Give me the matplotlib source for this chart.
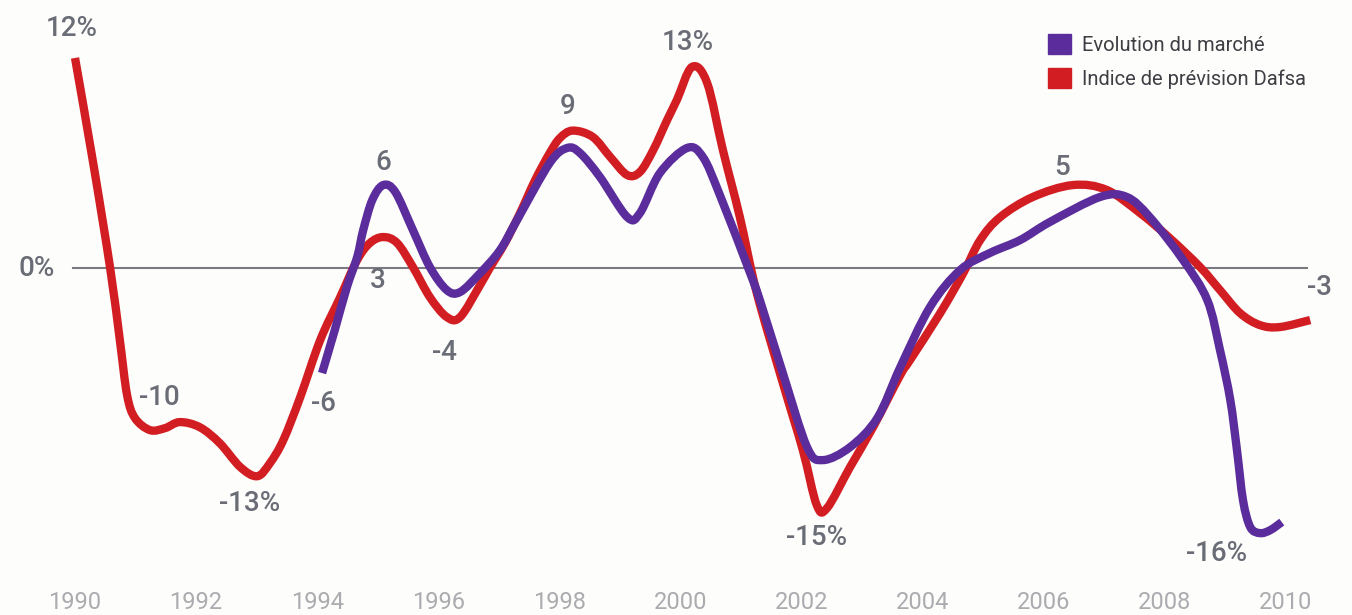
import matplotlib
matplotlib.use("Agg")
import matplotlib.pyplot as plt
import numpy as np
from matplotlib.patches import Patch, PathPatch
from matplotlib.path import Path

plt.rcParams['font.family'] = ['Roboto', 'DejaVu Sans']

# --- data (year, % change) ---
red_years = [1990.00, 1990.30, 1990.58, 1990.74, 1990.86, 1990.99, 1991.24, 1991.49, 1991.73,
             1992.06, 1992.39, 1992.73, 1993.01, 1993.22, 1993.44, 1993.72, 1994.05, 1994.38,
             1994.66, 1994.87, 1995.09, 1995.32, 1995.58, 1995.86, 1996.14, 1996.36, 1996.69,
             1996.85, 1997.10, 1997.35, 1997.60, 1997.84, 1998.01, 1998.22, 1998.55,
             1998.84, 1999.12, 1999.33, 1999.55, 1999.78, 1999.94, 2000.19, 2000.44, 2000.70,
             2000.98, 2001.26, 2001.69, 2002.02, 2002.25, 2002.42, 2002.80, 2003.18, 2003.63,
             2003.79, 2004.29, 2004.67, 2004.95, 2005.28, 2005.82, 2006.48, 2007.04, 2007.59,
             2008.08, 2008.58, 2008.91, 2009.24, 2009.57, 2009.90, 2010.40]
red_vals = [12.00, 6.00, 0.00, -4.11, -7.26, -8.57, -9.26, -9.14, -8.80,
            -9.09, -10.00, -11.37, -11.89, -11.14, -9.83, -7.37, -4.11, -1.66,
            0.46, 1.43, 1.77, 1.43, 0.06, -1.66, -2.80, -2.80, -0.97,
            0.00, 1.43, 3.14, 5.03, 6.57, 7.43, 7.85, 7.49,
            6.34, 5.31, 5.49, 6.74, 8.46, 9.60, 11.49, 10.57, 6.74,
            2.91, -1.43, -6.57, -10.40, -13.54, -13.71, -11.37, -9.09, -6.11,
            -5.26, -2.57, -0.29, 1.60, 2.91, 4.06, 4.74, 4.46, 3.14,
            1.71, 0.06, -1.26, -2.57, -3.26, -3.37, -2.97]

purple_years = [1994.08, 1994.29, 1994.49, 1994.66, 1994.76, 1994.91, 1995.09, 1995.29, 1995.58,
                1995.86, 1996.14, 1996.36, 1996.69, 1997.02, 1997.30, 1997.84, 1998.13, 1998.34,
                1998.67, 1999.12, 1999.33, 1999.66, 2000.11, 2000.37, 2000.65, 2001.15, 2001.31,
                2001.69, 2002.09, 2002.35, 2002.80, 2003.25, 2003.63, 2004.12, 2004.62, 2005.11,
                2005.61, 2006.10, 2006.93, 2007.37, 2007.75, 2008.30, 2008.70, 2008.91, 2009.08,
                2009.19, 2009.29, 2009.41, 2009.57, 2009.74, 2009.93]
purple_vals = [-6.00, -3.54, -1.09, 0.63, 2.17, 3.89, 4.74, 4.34, 2.17,
               0.06, -1.26, -1.37, -0.29, 1.03, 2.74, 6.00, 6.86, 6.57,
               5.20, 2.91, 3.14, 5.43, 6.86, 6.34, 4.17, -0.29, -1.83,
               -6.00, -10.23, -10.97, -10.23, -8.57, -5.66, -2.23, -0.11, 0.86,
               1.60, 2.63, 4.06, 4.06, 2.91, 0.46, -1.83, -4.69, -7.54,
               -10.40, -13.26, -14.80, -15.14, -14.97, -14.51]

tick_years = [1990, 1992, 1994, 1996, 1998, 2000, 2002, 2004, 2006, 2008, 2010]

labels = ["12%", "-10", "-13%", "-6", "6", "3", "-4", "9", "13%", "-15%", "5", "-3", "-16%"]
label_x = [1989.95, 1991.40, 1992.89, 1994.10, 1995.09, 1995.00, 1996.11, 1998.13, 2000.12,
           2002.25, 2006.30, 2010.56, 2008.86]
label_y = [13.71, -7.37, -13.43, -7.71, 6.0, -0.69, -4.80, 9.2, 12.91,
           -15.37, 5.77, -1.14, -16.29]

series_names = ["Evolution du marché", "Indice de prévision Dafsa"]

RED = "#d21e23"
PURPLE = "#5b2c9b"
TXT = "#6a6c76"
BG = "#fdfdfb"


def smooth_path(xs, ys):
    # bezier curve through the read points (catmull-rom style handles)
    pts = np.column_stack([xs, ys])
    verts = [pts[0]]
    codes = [Path.MOVETO]
    n = len(pts)
    for i in range(n - 1):
        p0 = pts[i - 1] if i > 0 else pts[i]
        p1 = pts[i]
        p2 = pts[i + 1]
        p3 = pts[i + 2] if i + 2 < n else p2
        verts += [p1 + (p2 - p0) / 6, p2 - (p3 - p1) / 6, p2]
        codes += [Path.CURVE4] * 3
    return Path(verts, codes)


fig = plt.figure(figsize=(13.52, 6.15), dpi=100, facecolor=BG)
ax = fig.add_axes([0, 0.06, 1, 0.94], facecolor=BG)
ax.set_xlim(1988.761, 2011.09)
ax.set_ylim(-17.71, 15.31)
for s in ax.spines.values():
    s.set_visible(False)

ax.axhline(0, xmin=0.054, xmax=0.967, color="#7a7a80", lw=1.5, zorder=1)

for xs, ys, col, z in [(red_years, red_vals, RED, 2), (purple_years, purple_vals, PURPLE, 3)]:
    ax.add_patch(PathPatch(smooth_path(xs, ys), fill=False, edgecolor=col, lw=6,
                           joinstyle="round", capstyle="butt", zorder=z))

for t, x, y in zip(labels, label_x, label_y):
    ax.text(x, y, t, ha="center", va="center", fontsize=20, color=TXT,
            fontweight="medium", zorder=4)
ax.text(1989.36, 0, "0%", ha="center", va="center", fontsize=20, color=TXT,
        fontweight="medium")

ax.set_xticks(tick_years)
ax.set_xticklabels([str(y) for y in tick_years], fontsize=17, color="#ababb0")
ax.tick_params(axis="x", length=0, pad=9)
ax.set_yticks([])

handles = [Patch(color=PURPLE), Patch(color=RED)]
ax.legend(handles, series_names, loc="upper left",
          bbox_to_anchor=(1030 / 1352, 1 - 16 / 615), bbox_transform=fig.transFigure,
          frameon=False, fontsize=14.5, handlelength=1.15, handleheight=1.15,
          handletextpad=0.55, labelspacing=0.65, labelcolor="#3e3e44")

fig.savefig("out.png", dpi=100, facecolor=BG)
